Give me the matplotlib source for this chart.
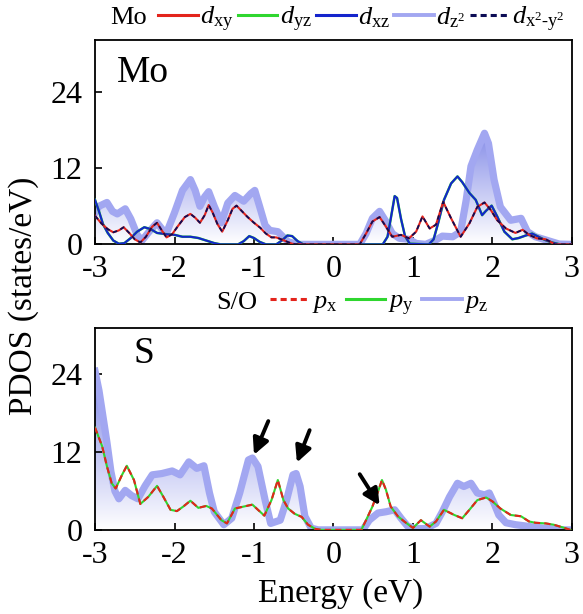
import matplotlib
matplotlib.use("Agg")
import matplotlib.pyplot as plt
import numpy as np
from matplotlib.lines import Line2D
from matplotlib.colors import LinearSegmentedColormap

plt.rcParams['font.family'] = ['Liberation Serif', 'DejaVu Serif']
plt.rcParams['mathtext.fontset'] = 'custom'
plt.rcParams['mathtext.rm'] = 'Liberation Serif'
plt.rcParams['mathtext.it'] = 'Liberation Serif:italic'

# ---- Mo d-orbital PDOS ----
e_dz2 = [-3.0, -2.95, -2.85, -2.78, -2.72, -2.62, -2.55, -2.47, -2.41, -2.32, -2.22, -2.15, -2.10,
         -2.0, -1.90, -1.80, -1.74, -1.68, -1.62, -1.57, -1.50, -1.41, -1.33, -1.24, -1.13, -1.04,
         -0.99, -0.93, -0.86, -0.80, -0.70, -0.62, -0.57, -0.44,
         0.33, 0.41, 0.49, 0.58, 0.66, 0.74, 0.83, 0.95, 1.04, 1.16, 1.29, 1.37, 1.50, 1.60, 1.67,
         1.73, 1.81, 1.90, 1.95, 2.02, 2.10, 2.23, 2.36, 2.44, 2.54, 2.67, 2.84, 3.0]
dz2 = [5.0, 6.0, 6.6, 5.2, 4.8, 5.6, 4.0, 1.5, 0.6, 2.0, 3.4, 2.3, 1.8,
       5.0, 8.5, 10.2, 8.5, 6.0, 7.5, 8.3, 6.0, 3.4, 6.5, 7.7, 6.8, 8.0,
       8.5, 6.0, 3.0, 2.2, 2.0, 1.0, 0.4, 0.0,
       0.0, 1.7, 4.1, 5.2, 3.6, 1.7, 0.95, 0.8, 0.15, 0.0, 0.7, 1.3, 1.2, 2.0, 7.0,
       12.3, 14.9, 17.5, 15.9, 10.2, 5.9, 3.8, 4.1, 2.0, 1.2, 0.7, 0.05, 0.0]

e_dxy = [-3.0, -2.92, -2.84, -2.77, -2.70, -2.64, -2.57, -2.50, -2.43, -2.36, -2.28, -2.22, -2.16,
         -2.10, -2.03, -1.95, -1.87, -1.80, -1.74, -1.68, -1.62, -1.57, -1.52, -1.46, -1.40, -1.33,
         -1.27, -1.22, -1.15, -1.08, -1.00, -0.92, -0.85, -0.78, -0.72, -0.66, -0.58, -0.52, -0.45,
         0.33, 0.41, 0.49, 0.58, 0.66, 0.74, 0.85, 0.95, 1.04, 1.12, 1.21, 1.29, 1.38, 1.48, 1.60,
         1.71, 1.81, 1.90, 1.98, 2.06, 2.17, 2.29, 2.38, 2.46, 2.56, 2.67, 2.79, 3.0]
dxy = [4.5, 3.3, 2.4, 1.9, 2.2, 2.7, 1.8, 0.8, 0.3, 1.2, 2.8, 3.4, 2.2,
       1.1, 1.6, 3.0, 4.3, 4.8, 4.2, 3.4, 4.6, 6.2, 5.0, 3.2, 2.0, 3.8,
       5.6, 6.1, 5.2, 4.3, 3.4, 2.6, 1.7, 1.1, 1.1, 0.8, 0.4, 0.1, 0.0,
       0.0, 1.7, 3.6, 4.3, 2.8, 1.2, 1.5, 0.95, 2.0, 4.4, 2.5, 3.1, 6.7, 4.1, 1.2,
       3.3, 5.9, 6.6, 5.4, 3.8, 2.5, 1.8, 2.3, 1.5, 0.95, 0.8, 0.0, 0.0]
# d_x2-y2 lies exactly on top of d_xy in the picture
dx2y2 = dxy

e_dxz = [-3.0, -2.95, -2.90, -2.84, -2.77, -2.70, -2.63, -2.55, -2.47, -2.38, -2.30, -2.22, -2.10,
         -2.00, -1.90, -1.80, -1.70, -1.60, -1.50, -1.42, -1.20, -1.13, -1.06, -1.00, -0.93, -0.85,
         -0.72, -0.65, -0.58, -0.52, -0.45, -0.38,
         0.62, 0.68, 0.72, 0.77, 0.80, 0.85, 0.90, 0.96, 1.20, 1.26, 1.32, 1.39, 1.48, 1.56, 1.62,
         1.71, 1.79, 1.87, 1.92, 1.99, 2.06, 2.15, 2.25, 2.33, 2.42, 2.50, 2.58, 2.66, 2.75, 2.85, 3.0]
dxz = [7.0, 5.2, 3.2, 1.8, 0.6, 0.1, 0.2, 1.0, 2.0, 2.7, 2.4, 1.8, 1.6,
       1.5, 1.2, 1.2, 1.0, 0.6, 0.2, 0.0, 0.0, 0.5, 1.3, 1.0, 0.4, 0.0,
       0.0, 0.6, 1.4, 1.3, 0.5, 0.0,
       0.0, 1.2, 4.0, 7.6, 7.3, 4.0, 1.3, 0.1, 0.0, 0.8, 3.5, 7.0, 9.6, 10.7, 9.8,
       8.1, 7.0, 4.6, 5.3, 6.1, 4.4, 2.0, 0.8, 1.0, 1.4, 1.7, 1.2, 0.7, 0.3, 0.0, 0.0]
dyz = dxz  # hidden under d_xz in the picture

# ---- S / O p-orbital PDOS ----
e_pz = [-3.0, -2.95, -2.90, -2.85, -2.80, -2.75, -2.70, -2.62, -2.54, -2.46, -2.37, -2.28, -2.16,
        -2.03, -1.93, -1.82, -1.72, -1.63, -1.56, -1.50, -1.38, -1.28, -1.18, -1.07, -1.02, -0.95,
        -0.86, -0.79, -0.67, -0.59, -0.51, -0.47, -0.42, -0.36, -0.28, -0.19,
        0.37, 0.45, 0.56, 0.66, 0.77, 0.85, 0.93, 1.02, 1.16, 1.29, 1.37, 1.46, 1.56, 1.64, 1.73,
        1.81, 1.90, 1.96, 2.02, 2.08, 2.17, 2.29, 2.42, 2.54, 2.71, 2.88, 3.0]
pz = [24.5, 21.5, 17.5, 13.5, 9.0, 6.0, 4.8, 6.1, 5.3, 4.8, 6.8, 8.5, 8.7,
      9.1, 8.5, 10.5, 9.5, 9.9, 5.7, 2.8, 0.8, 1.8, 5.7, 10.8, 11.1, 9.8,
      4.6, 1.0, 1.5, 4.6, 8.5, 8.7, 6.7, 2.1, 0.26, 0.0,
      0.0, 1.5, 2.6, 2.8, 3.1, 1.8, 0.6, 0.2, 0.2, 1.0, 2.8, 5.1, 7.2, 6.7, 7.2,
      5.7, 5.4, 5.7, 4.1, 2.3, 1.1, 0.8, 0.6, 0.4, 0.2, 0.0, 0.0]

e_px = [-3.0, -2.91, -2.85, -2.79, -2.74, -2.66, -2.60, -2.51, -2.43, -2.33, -2.22, -2.14, -2.05,
        -1.97, -1.89, -1.80, -1.70, -1.60, -1.53, -1.41, -1.34, -1.24, -1.13, -1.02, -0.95, -0.87,
        -0.78, -0.70, -0.63, -0.57, -0.49, -0.40, -0.32, -0.23, -0.15,
        0.35, 0.41, 0.49, 0.56, 0.61, 0.66, 0.72, 0.81, 0.89, 1.00, 1.10, 1.21, 1.29, 1.39, 1.52,
        1.62, 1.71, 1.81, 1.92, 2.00, 2.10, 2.23, 2.36, 2.46, 2.54, 2.67, 2.77, 2.88, 2.98]
px = [15.8, 12.9, 9.8, 7.2, 6.4, 8.5, 9.9, 7.7, 4.0, 5.1, 6.8, 5.1, 3.1,
      2.9, 3.6, 4.5, 3.4, 3.7, 3.3, 1.5, 1.0, 3.3, 3.6, 3.9, 3.1, 2.2,
      4.6, 7.7, 4.6, 3.3, 2.5, 2.0, 0.8, 0.15, 0.0,
      0.0, 1.5, 3.6, 5.9, 7.7, 6.2, 3.6, 2.1, 1.3, 0.3, 1.5, 0.5, 1.3, 3.1, 2.3,
      1.8, 3.1, 4.6, 5.0, 4.4, 3.3, 2.3, 2.1, 1.3, 1.1, 1.0, 0.8, 0.4, 0.0]
py = px  # p_y coincides with p_x

# arrows marking the peaks in the S panel (tail -> tip)
arrow_tails = [(-0.82, 16.8), (-0.30, 15.4), (0.33, 8.6)]
arrow_tips = [(-1.00, 11.6), (-0.46, 10.4), (0.58, 3.8)]

xticks = [-3, -2, -1, 0, 1, 2, 3]
yticks = [0, 12, 24]

c_red = '#e3241c'
c_green = '#2fd62f'
c_blue = '#1424cc'
c_lav = '#a2a7f1'
c_navy = '#0c0c55'


def gradient_fill(ax, x, y, top, color):
    x = np.asarray(x)
    poly = ax.fill_between(x, y, 0, color='none', lw=0)
    path = poly.get_paths()[0]
    cmap = LinearSegmentedColormap.from_list('fade', ['white', color])
    grad = np.linspace(0, 1, 256).reshape(-1, 1)
    im = ax.imshow(grad, extent=[x.min(), x.max(), 0, top], origin='lower',
                   aspect='auto', cmap=cmap, zorder=1)
    im.set_clip_path(path, transform=ax.transData)


def style_axes(ax, ymax):
    ax.set_xlim(-3, 3)
    ax.set_ylim(0, ymax)
    ax.set_xticks(xticks)
    ax.set_xticklabels([str(t) for t in xticks])
    ax.set_yticks(yticks)
    ax.tick_params(direction='in', length=5, width=1.2, top=False, right=False,
                   labelsize=23)
    ax.tick_params(axis='x', pad=8)
    ax.tick_params(axis='y', pad=9)
    for s in ax.spines.values():
        s.set_linewidth(1.3)


fig = plt.figure(figsize=(5.83, 6.14), dpi=100)
ax1 = fig.add_axes([0.163, 0.602, 0.818, 0.333])
ax2 = fig.add_axes([0.163, 0.137, 0.818, 0.329])

# Mo panel
gradient_fill(ax1, e_dz2, dz2, 19, '#7c84e6')
ax1.plot(e_dz2, dz2, color=c_lav, lw=5.2, solid_joinstyle='round', zorder=2)
ax1.plot(e_dxz, dyz, color=c_green, lw=1.8, zorder=3)
ax1.plot(e_dxz, dxz, color=c_blue, lw=1.5, zorder=4)
ax1.plot(e_dxy, dxy, color=c_red, lw=1.5, zorder=5)
ax1.plot(e_dxy, dx2y2, color=c_navy, lw=1.3, ls=(0, (2.5, 2)), zorder=6)
ax1.text(-2.72, 27.0, 'Mo', fontsize=27, va='center')
style_axes(ax1, 32.2)

# S panel
gradient_fill(ax2, e_pz, pz, 25, '#7c84e6')
ax2.plot(e_pz, pz, color=c_lav, lw=5.2, solid_joinstyle='round', zorder=2)
ax2.plot(e_px, py, color=c_green, lw=1.5, zorder=3)
ax2.plot(e_px, px, color=c_red, lw=1.5, ls=(0, (3, 2)), zorder=4)
ax2.text(-2.52, 27.2, 'S', fontsize=27, va='center')
for tail, tip in zip(arrow_tails, arrow_tips):
    ax2.annotate('', xy=tip, xytext=tail,
                 arrowprops=dict(arrowstyle='-|>,head_length=0.6,head_width=0.3',
                                 color='black', lw=2.8, mutation_scale=16,
                                 shrinkA=0, shrinkB=0), zorder=7)
style_axes(ax2, 31.2)

# legends above each panel
top_handles = [Line2D([], [], color=c_red, lw=2.2),
               Line2D([], [], color=c_green, lw=2.2),
               Line2D([], [], color=c_blue, lw=2.2),
               Line2D([], [], color=c_lav, lw=2.8),
               Line2D([], [], color=c_navy, lw=2.2, ls=(0, (2, 1.3)))]
top_labels = [r'$d_{\mathrm{xy}}$', r'$d_{\mathrm{yz}}$', r'$d_{\mathrm{xz}}$',
              r'$d_{\mathrm{z^2}}$', r'$d_{\mathrm{x^2\text{-}y^2}}$']
fig.text(110 / 583, 0.970, 'Mo', fontsize=19, va='center')
fig.legend(top_handles, top_labels, loc='center left', bbox_to_anchor=(158 / 583, 0.968),
           ncol=5, frameon=False, fontsize=19, handlelength=1.5, handletextpad=0.1,
           columnspacing=0.15, borderpad=0, borderaxespad=0)

bot_handles = [Line2D([], [], color=c_red, lw=2.2, ls=(0, (2, 1.3))),
               Line2D([], [], color=c_green, lw=2.2),
               Line2D([], [], color=c_lav, lw=2.8)]
bot_labels = [r'$p_{\mathrm{x}}$', r'$p_{\mathrm{y}}$', r'$p_{\mathrm{z}}$']
fig.text(216 / 583, 0.507, 'S/O', fontsize=19, va='center')
fig.legend(bot_handles, bot_labels, loc='center left', bbox_to_anchor=(270 / 583, 0.505),
           ncol=3, frameon=False, fontsize=19, handlelength=1.5, handletextpad=0.1,
           columnspacing=0.3, borderpad=0, borderaxespad=0)

fig.text(24 / 583, 1 - 296 / 614, 'PDOS (states/eV)', rotation=90, fontsize=24,
         ha='center', va='center')
fig.text(341 / 583, 1 - 594 / 614, 'Energy (eV)', fontsize=24, ha='center', va='center')

fig.savefig('out.png', dpi=100)
